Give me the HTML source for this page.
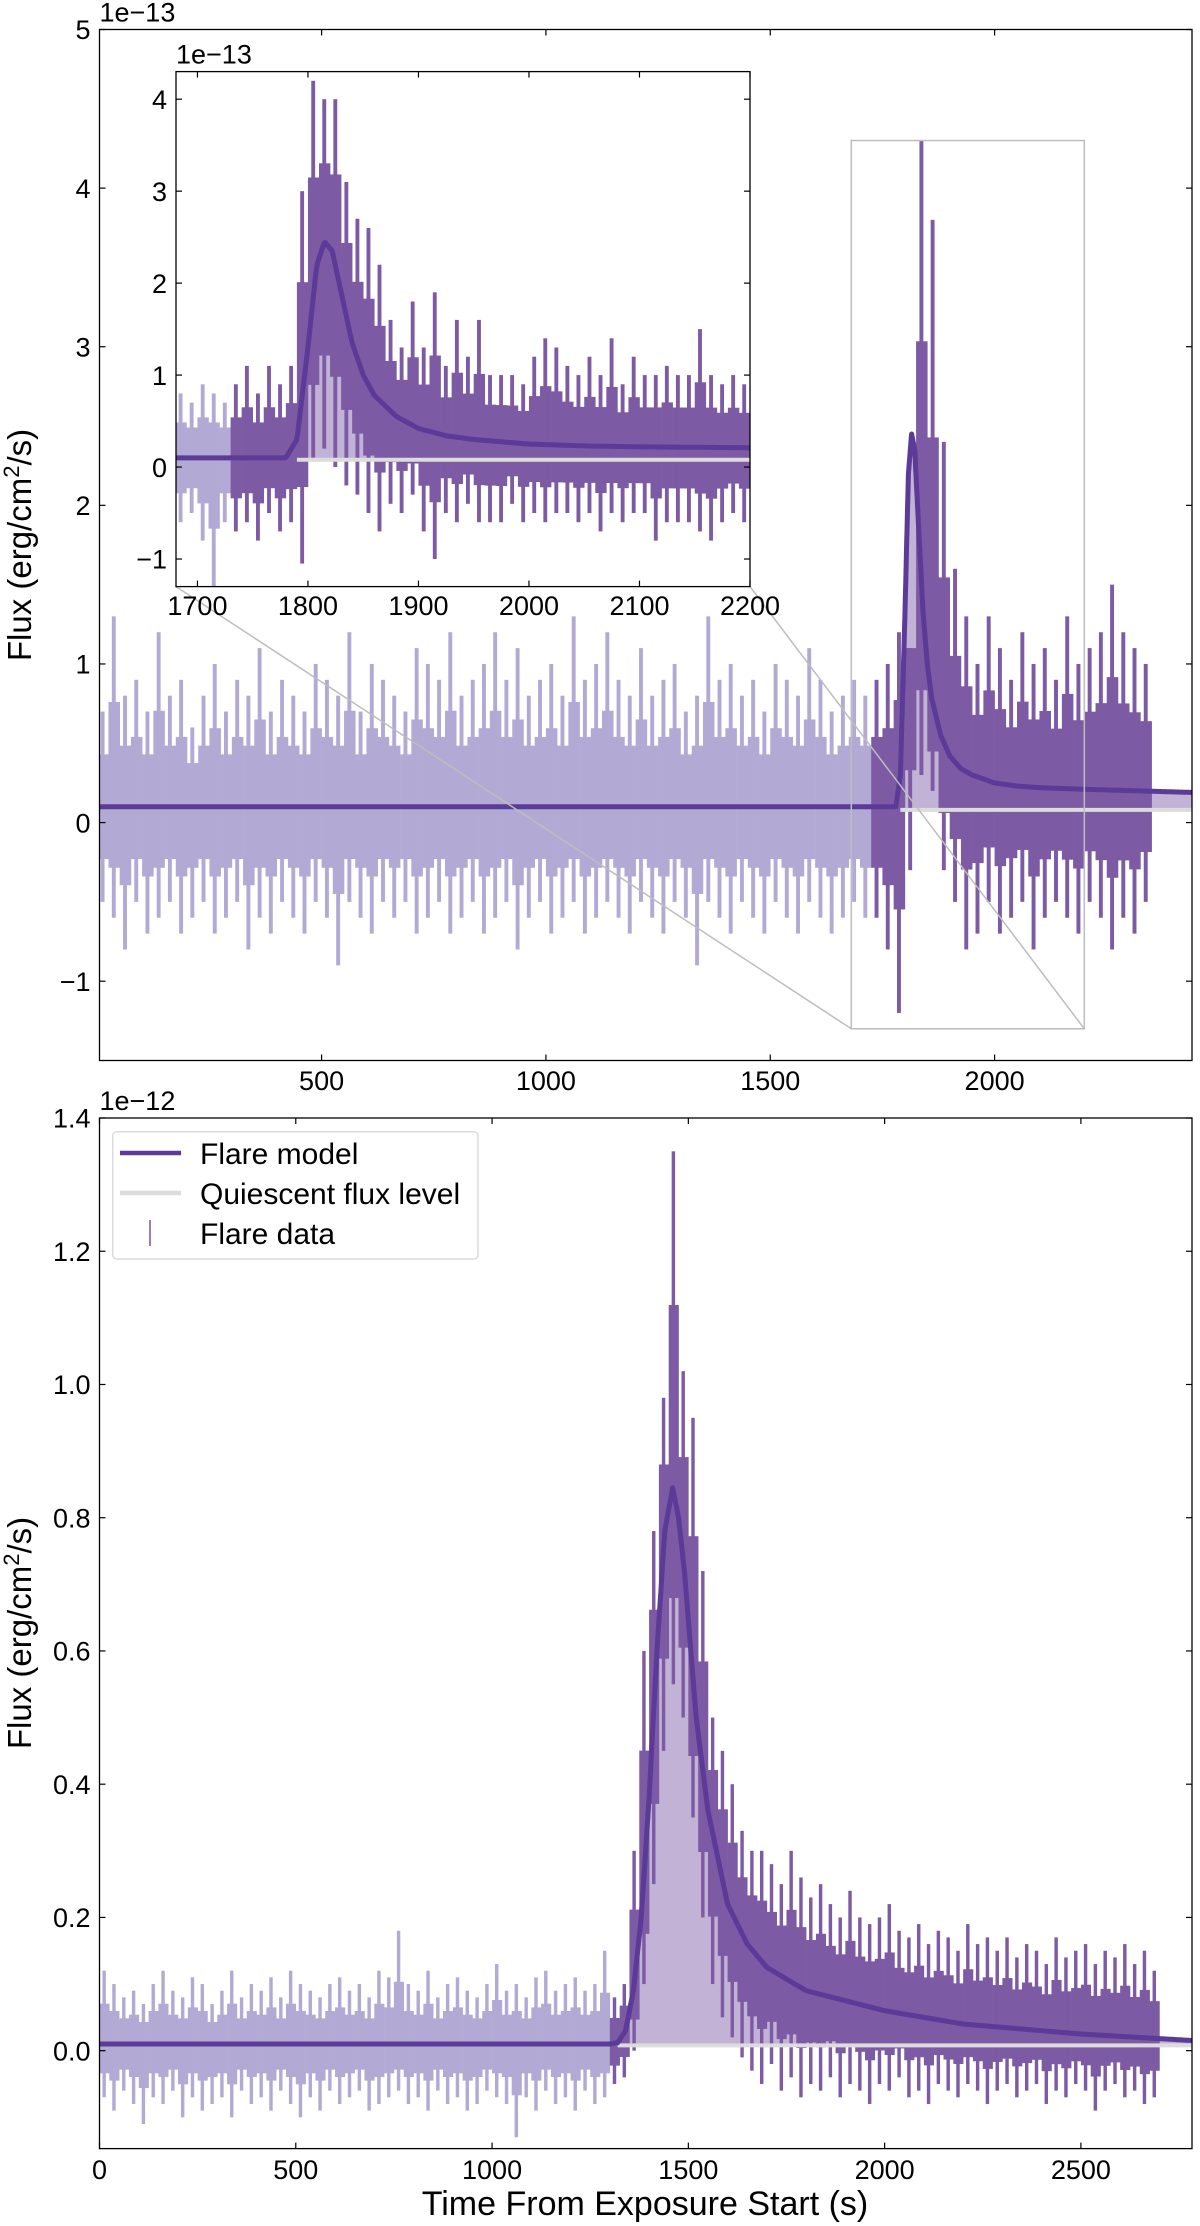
<!DOCTYPE html>
<html><head><meta charset="utf-8"><style>
html,body{margin:0;padding:0;background:#fff;}
svg{display:block;font-family:"Liberation Sans","DejaVu Sans",sans-serif;}
</style></head><body>
<svg id="fig" width="1200" height="2226" viewBox="0 0 1200 2226" xmlns="http://www.w3.org/2000/svg"></svg>
<script>
// ---------- Model curves ----------
const topModelT = [0,1780,1790,1800,1808,1815,1822,1830,1840,1850,1860,1880,1900,1925,1950,2000,2050,2100,2200,2440];
const topModelV = [0.1,0.1,0.3,1.3,2.2,2.45,2.35,1.9,1.35,1.0,0.78,0.55,0.42,0.34,0.3,0.25,0.23,0.22,0.21,0.19];
const topQuietStart = 1790;
const topQuietLevel = 0.08;
const botModelT = [0,1300,1320,1340,1360,1380,1400,1420,1440,1460,1475,1490,1520,1550,1600,1650,1700,1800,2000,2200,2500,2790];
const botModelV = [0.01,0.01,0.012,0.03,0.09,0.2,0.38,0.6,0.78,0.845,0.8,0.72,0.5,0.36,0.22,0.16,0.125,0.09,0.06,0.04,0.025,0.015];
const botQuietStart = 1320;
const botQuietLevel = 0.008;

// ---------- Top main data (25 s bins) ----------
const topStart = 0, topStep = 25;
const topQuietHi = [0.7,1.3,0.8,0.9,0.7,1.2,0.8,0.9,0.6,0.8,1.0,0.7,0.9,0.8,1.1,0.7,0.9,0.8,0.7,1.0,0.9,0.8,1.2,0.7,1.0,0.9,0.8,0.7,1.1,1.0,0.9,1.2,0.8,0.9,1.0,1.2,0.9,1.1,0.8,0.9,1.0,0.8,1.3,0.9,1.0,1.2,0.9,0.8,1.1,0.8,0.9,1.0,0.7,0.8,1.3,0.9,1.0,0.8,0.9,0.7,1.0,0.9,0.8,1.1,0.9,0.7,0.8,0.9,0.8];
const topQuietLo = [-0.5,-0.6,-0.8,-0.5,-0.7,-0.6,-0.5,-0.7,-0.6,-0.5,-0.7,-0.6,-0.5,-0.8,-0.6,-0.7,-0.5,-0.6,-0.7,-0.5,-0.6,-0.9,-0.5,-0.6,-0.7,-0.5,-0.6,-0.5,-0.7,-0.6,-0.5,-0.7,-0.6,-0.5,-0.7,-0.6,-0.5,-0.8,-0.6,-0.5,-0.7,-0.6,-0.5,-0.7,-0.6,-0.5,-0.6,-0.7,-0.5,-0.6,-0.7,-0.5,-0.6,-0.9,-0.5,-0.6,-0.7,-0.5,-0.6,-0.7,-0.5,-0.6,-0.7,-0.5,-0.6,-0.7,-0.6,-0.5,-0.6];
const topFlareStart = 1725;
const topFlareHi = [0.9,1.0,1.2,1.1,4.3,3.8,2.4,1.6,1.3,1.0,1.3,1.1,0.9,1.2,1.0,1.1,0.9,1.3,1.0,1.1,1.2,1.5,1.2,1.1,1.0];
const topFlareLo = [-0.6,-0.8,-1.2,-0.3,0.3,0.2,-0.3,-0.5,-0.8,-0.7,-0.5,-0.7,-0.6,-0.5,-0.8,-0.6,-0.5,-0.6,-0.7,-0.5,-0.6,-0.8,-0.6,-0.7,-0.5];

// ---------- Inset data (10 s bins) ----------
const inStart = 1680, inStep = 10, inQuietCount = 5;
const inHi = [0.8,0.7,0.9,0.8,0.7,0.9,1.1,0.8,1.1,0.9,1.1,3.0,4.2,4.0,4.0,3.1,2.7,2.6,2.2,1.6,1.3,1.8,1.3,1.9,1.1,1.6,1.2,1.6,1.0,1.0,1.0,0.9,1.2,1.4,1.3,1.1,1.0,1.2,1.0,1.4,0.9,1.2,1.0,1.0,1.1,1.0,1.0,1.5,1.0,0.9,1.0,0.9];
const inLo = [-0.6,-0.5,-0.8,-1.3,-0.6,-0.7,-0.6,-0.8,-0.5,-0.7,-0.6,-1.05,0.1,0.2,0.0,-0.2,-0.3,-0.5,-0.7,-0.4,-0.5,-0.3,-0.7,-1.0,-0.5,-0.6,-0.4,-0.6,-0.6,-0.6,-0.4,-0.6,-0.5,-0.6,-0.5,-0.5,-0.6,-0.5,-0.7,-0.5,-0.6,-0.5,-0.5,-0.8,-0.6,-0.6,-0.6,-0.7,-0.8,-0.6,-0.5,-0.6];

// ---------- Bottom data (25 s bins) ----------
const botStart = 0, botStep = 25;
const botQuietHi = [0.12,0.1,0.08,0.09,0.07,0.1,0.12,0.09,0.08,0.11,0.1,0.07,0.09,0.12,0.08,0.1,0.09,0.11,0.08,0.12,0.1,0.09,0.08,0.1,0.11,0.09,0.1,0.08,0.12,0.11,0.18,0.1,0.09,0.12,0.08,0.1,0.11,0.09,0.08,0.1,0.13,0.09,0.1,0.08,0.11,0.12,0.09,0.1,0.11,0.09,0.1,0.15];
const botQuietLo = [-0.07,-0.09,-0.06,-0.08,-0.11,-0.07,-0.08,-0.06,-0.1,-0.07,-0.09,-0.08,-0.07,-0.1,-0.06,-0.08,-0.07,-0.09,-0.06,-0.08,-0.1,-0.07,-0.09,-0.06,-0.08,-0.07,-0.06,-0.09,-0.08,-0.07,-0.06,-0.08,-0.07,-0.09,-0.06,-0.08,-0.07,-0.09,-0.08,-0.06,-0.07,-0.08,-0.13,-0.07,-0.09,-0.06,-0.08,-0.07,-0.09,-0.06,-0.08,-0.07];
const botFlareStart = 1300;
const botFlareHi = [0.08,0.1,0.3,0.6,0.78,0.98,1.35,1.02,0.95,0.72,0.5,0.45,0.4,0.33,0.3,0.3,0.28,0.25,0.3,0.26,0.23,0.25,0.22,0.2,0.24,0.2,0.19,0.2,0.22,0.18,0.17,0.19,0.16,0.18,0.17,0.15,0.19,0.16,0.17,0.15,0.17,0.14,0.16,0.15,0.13,0.17,0.14,0.15,0.16,0.13,0.15,0.14,0.16,0.13,0.15,0.12];
const botFlareLo = [-0.05,-0.04,0.0,0.1,0.25,0.45,0.55,0.5,0.35,0.2,0.1,0.05,0.02,-0.01,-0.03,-0.05,-0.02,-0.06,-0.04,-0.07,-0.05,-0.06,-0.04,-0.07,-0.05,-0.06,-0.08,-0.05,-0.06,-0.04,-0.07,-0.06,-0.08,-0.05,-0.06,-0.07,-0.05,-0.06,-0.08,-0.06,-0.05,-0.07,-0.06,-0.05,-0.08,-0.06,-0.07,-0.05,-0.06,-0.09,-0.06,-0.05,-0.07,-0.06,-0.08,-0.07];

// ---------- Ticks ----------
const topXTicks = [500,1000,1500,2000];
const topYTicks = [-1,0,1,2,3,4,5];
const topYLabels = ["\u22121","0","1","2","3","4","5"];
const inXTicks = [1700,1800,1900,2000,2100,2200];
const inYTicks = [-1,0,1,2,3,4];
const inYLabels = ["\u22121","0","1","2","3","4"];
const botXTicks = [0,500,1000,1500,2000,2500];
const botYTicks = [0,0.2,0.4,0.6,0.8,1.0,1.2,1.4];
const botYLabels = ["0.0","0.2","0.4","0.6","0.8","1.0","1.2","1.4"];

const NS = "http://www.w3.org/2000/svg";
const fig = document.getElementById('fig');
const C_LIGHT = "#b2aad4", C_DARK = "#7d5aa4", C_MODEL = "#5b3a98", C_FILL = "#c2b2d6", C_QUIET = "#dcdcdc";
let clipId = 0;

function mk(tag, attrs, parent) {
  const e = document.createElementNS(NS, tag);
  for (const k in attrs) e.setAttribute(k, attrs[k]);
  (parent || fig).appendChild(e);
  return e;
}
function txt(str, x, y, size, anchor, parent, rot) {
  const t = mk('text', {x: x, y: y, 'font-size': size, 'text-anchor': anchor || 'middle', fill: '#000'}, parent);
  if (rot) t.setAttribute('transform', 'rotate(' + rot + ' ' + x + ' ' + y + ')');
  t.textContent = str;
  return t;
}
function interp(ts, vs, t) {
  if (t <= ts[0]) return vs[0];
  for (let i = 1; i < ts.length; i++) if (t <= ts[i]) { const f = (t - ts[i-1]) / (ts[i] - ts[i-1]); return vs[i-1] + f * (vs[i] - vs[i-1]); }
  return vs[vs.length - 1];
}

function axes(box, xd, yd) {
  const sx = v => box.x + (v - xd[0]) / (xd[1] - xd[0]) * box.w;
  const sy = v => box.y + box.h - (v - yd[0]) / (yd[1] - yd[0]) * box.h;
  return {sx, sy};
}

// one data bin: dense core band plus thinner full-extent errorbar
function drawBin(parent, sx, sy, t0, step, hi, lo, center) {
  const x0 = sx(t0), x1 = sx(t0 + step), w = x1 - x0;
  const c = Math.min(Math.max(center, lo), hi);
  const cHi = c + (hi - c) * 0.55, cLo = c + (lo - c) * 0.55;
  const core = mk('rect', {x: x0, y: sy(cHi), width: w + 0.3, height: Math.max(0, sy(cLo) - sy(cHi))}, parent);
  
  
  const bw = Math.max(1.5, w * 0.35);
  const bar = mk('rect', {x: x0 + w * 0.3, y: sy(hi), width: bw, height: sy(lo) - sy(hi)}, parent);
  
  
}

function drawPanel(o) {
  const g = mk('g', {});
  
  
  const {sx, sy} = axes(o.box, o.xd, o.yd);
  const b = o.box;
  mk('rect', {x: b.x, y: b.y, width: b.w, height: b.h, fill: '#fff'}, g);
  const cid = 'clip' + (clipId++);
  const cp = mk('clipPath', {id: cid}, g);
  mk('rect', {x: b.x, y: b.y, width: b.w, height: b.h}, cp);
  const pg = mk('g', {'clip-path': 'url(#' + cid + ')'}, g);
  const model = t => interp(o.mT, o.mV, t);

  // fill under model (behind data)
  let pts = [];
  for (let t = o.quietStart; t <= o.xd[1]; t += 2) pts.push([sx(t), sy(Math.max(o.quietLevel, model(t)))]);
  let d = 'M' + sx(o.quietStart) + ',' + sy(o.quietLevel) + ' ' + pts.map(p => 'L' + p[0].toFixed(1) + ',' + p[1].toFixed(1)).join(' ') + ' L' + sx(o.xd[1]) + ',' + sy(o.quietLevel) + 'Z';
  const fill = mk('path', {d: d, fill: C_FILL}, pg);
  
  

  const qg = mk('g', {fill: C_LIGHT}, pg);
  
  
  o.qHi.forEach((h, i) => {
    const t0 = o.qStart + i * o.step;
    drawBin(qg, sx, sy, t0, o.step, h, o.qLo[i], model(t0 + o.step / 2));
  });
  const fg = mk('g', {fill: C_DARK}, pg);
  
  
  o.fHi.forEach((h, i) => {
    const t0 = o.fStart + i * o.step;
    drawBin(fg, sx, sy, t0, o.step, h, o.fLo[i], model(t0 + o.step / 2));
  });
  const ql = mk('line', {x1: sx(o.quietStart), x2: sx(o.xd[1]), y1: sy(o.quietLevel), y2: sy(o.quietLevel), stroke: C_QUIET, 'stroke-width': 4}, pg);
  
  
  let md = '';
  for (let t = o.xd[0]; t <= o.xd[1]; t += 1) md += (md ? 'L' : 'M') + sx(t).toFixed(1) + ',' + sy(model(t)).toFixed(1) + ' ';
  const ml = mk('path', {d: md, fill: 'none', stroke: C_MODEL, 'stroke-width': o.lw, 'stroke-linejoin': 'round'}, pg);
  
  

  mk('rect', {x: b.x, y: b.y, width: b.w, height: b.h, fill: 'none', stroke: '#000', 'stroke-width': 1.3}, g);
  const tl = 6;
  o.xt.forEach(v => {
    const x = sx(v);
    mk('line', {x1: x, x2: x, y1: b.y + b.h, y2: b.y + b.h - tl, stroke: '#000', 'stroke-width': 1.2}, g);
    mk('line', {x1: x, x2: x, y1: b.y, y2: b.y + tl, stroke: '#000', 'stroke-width': 1.2}, g);
    const l = txt(String(v), x, o.xLabY, o.fs, 'middle', g);
    
    
  });
  o.yt.forEach((v, i) => {
    const y = sy(v);
    mk('line', {x1: b.x, x2: b.x + tl, y1: y, y2: y, stroke: '#000', 'stroke-width': 1.2}, g);
    mk('line', {x1: b.x + b.w, x2: b.x + b.w - tl, y1: y, y2: y, stroke: '#000', 'stroke-width': 1.2}, g);
    const l = txt(o.yl[i], b.x - 9, y + o.fs * 0.36, o.fs, 'end', g);
    
    
  });
  const off = txt(o.offset, b.x, b.y - 8, o.fs, 'start', g);
  
  
  return {sx, sy};
}

// ---------- Top main panel ----------
const topBox = {x: 99.5, y: 29.5, w: 1092.5, h: 1031};
const topXD = [5, 2440], topYD = [-1.5, 5];
drawPanel({name: 'top-panel', box: topBox, xd: topXD, yd: topYD, qStart: topStart, step: topStep,
  qHi: topQuietHi, qLo: topQuietLo, fStart: topFlareStart, fHi: topFlareHi, fLo: topFlareLo,
  mT: topModelT, mV: topModelV, quietStart: topQuietStart, quietLevel: topQuietLevel, lw: 5,
  xt: topXTicks, yt: topYTicks, yl: topYLabels, xLabY: 1090, fs: 27, offset: '1e\u221213'});
const topAx = axes(topBox, topXD, topYD);

const inBox = {x: 176, y: 71.6, w: 574, h: 515};
const inXD = [1680.6, 2200], inYD = [-1.3, 4.3];
const zx0 = topAx.sx(inXD[0]), zx1 = topAx.sx(inXD[1]), zy0 = topAx.sy(inYD[1]), zy1 = topAx.sy(inYD[0]);
const zr = mk('rect', {x: zx0, y: zy0, width: zx1 - zx0, height: zy1 - zy0, fill: 'none', stroke: '#bdbdbd', 'stroke-width': 1.5});


const c1 = mk('line', {x1: inBox.x, y1: inBox.y + inBox.h, x2: zx0, y2: zy1, stroke: '#bdbdbd', 'stroke-width': 1.5});


const c2 = mk('line', {x1: inBox.x + inBox.w, y1: inBox.y + inBox.h, x2: zx1, y2: zy1, stroke: '#bdbdbd', 'stroke-width': 1.5});



// ---------- Inset ----------
drawPanel({name: 'inset-panel', box: inBox, xd: inXD, yd: inYD, qStart: inStart, step: inStep,
  qHi: inHi.slice(0, inQuietCount), qLo: inLo.slice(0, inQuietCount),
  fStart: inStart + inQuietCount * inStep, fHi: inHi.slice(inQuietCount), fLo: inLo.slice(inQuietCount),
  mT: topModelT, mV: topModelV, quietStart: topQuietStart, quietLevel: topQuietLevel, lw: 5,
  xt: inXTicks, yt: inYTicks, yl: inYLabels, xLabY: 615, fs: 27, offset: '1e\u221213'});

// ---------- Bottom panel ----------
const botBox = {x: 99.5, y: 1118, w: 1092.5, h: 1030.6};
const botXD = [0, 2783], botYD = [-0.147, 1.4];
drawPanel({name: 'bottom-panel', box: botBox, xd: botXD, yd: botYD, qStart: botStart, step: botStep,
  qHi: botQuietHi, qLo: botQuietLo, fStart: botFlareStart, fHi: botFlareHi, fLo: botFlareLo,
  mT: botModelT, mV: botModelV, quietStart: botQuietStart, quietLevel: botQuietLevel, lw: 5,
  xt: botXTicks, yt: botYTicks, yl: botYLabels, xLabY: 2179, fs: 27, offset: '1e\u221212'});

function ylab(y, name) {
  const t = mk('text', {x: 0, y: 0, 'font-size': 33, 'text-anchor': 'middle', transform: 'translate(31 ' + y + ') rotate(-90)'});
  
  
  t.innerHTML = 'Flux (erg/cm<tspan baseline-shift="super" font-size="22">2</tspan>/s)';
}
ylab(545, 'top-y-axis-title');
ylab(1633, 'bottom-y-axis-title');
const xl = txt('Time From Exposure Start (s)', 645, 2215, 34, 'middle');



const lg = mk('g', {});


mk('rect', {x: 112.7, y: 1131.7, width: 365.3, height: 127.3, rx: 4, fill: '#fff', 'fill-opacity': 0.85, stroke: '#dcdcdc', 'stroke-width': 1.5}, lg);
const e1 = mk('g', {}, lg);


mk('line', {x1: 120, x2: 181, y1: 1153, y2: 1153, stroke: C_MODEL, 'stroke-width': 4.5}, e1);
txt('Flare model', 200, 1164, 30, 'start', e1);
const e2 = mk('g', {}, lg);


mk('line', {x1: 120, x2: 181, y1: 1193, y2: 1193, stroke: C_QUIET, 'stroke-width': 4.5}, e2);
txt('Quiescent flux level', 200, 1204, 30, 'start', e2);
const e3 = mk('g', {}, lg);


mk('line', {x1: 150, x2: 150, y1: 1220, y2: 1246, stroke: '#9a7cc0', 'stroke-width': 2}, e3);
txt('Flare data', 200, 1244, 30, 'start', e3);
</script>
</body></html>
